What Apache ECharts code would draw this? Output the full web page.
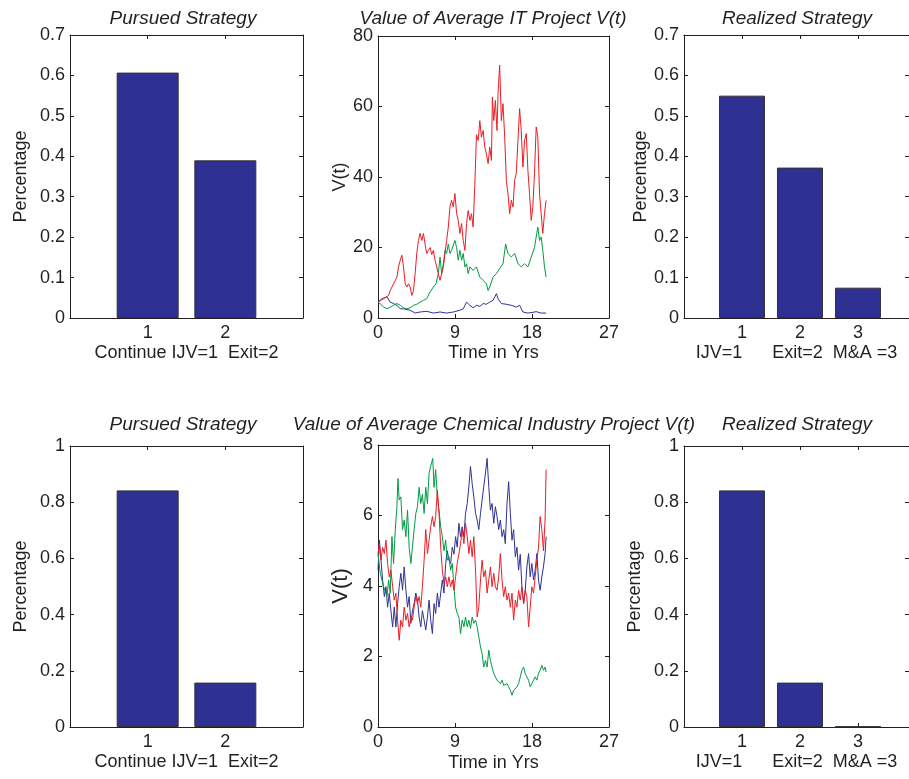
<!DOCTYPE html>
<html>
<head>
<meta charset="utf-8">
<script src="https://cdn.jsdelivr.net/npm/echarts@6/dist/echarts.min.js"></script>
<style>
html, body { margin: 0; padding: 0; background: #fff; }
#chart { width: 909px; height: 779px; }
</style>
</head>
<body>
<div id="chart"></div>
<script>
// share of projects per strategy (bars at x = 1, 2, 3)
var itPursued = [0.607, 0.39];
var itRealized = [0.55, 0.372, 0.075];
var chemPursued = [0.842, 0.158];
var chemRealized = [0.842, 0.158, 0.002];

// simulated value paths V(t), [year, value]
var itRed = [[0,4.5],[0.66,5.5],[1.24,6.4],[1.43,7.8],[1.82,9.7],[2.02,10.7],[2.21,11.6],[2.40,14.5],[2.60,16.4],[2.79,17.8],[2.98,14.5],[3.18,9.7],[3.37,8.8],[3.57,9.7],[3.76,8.8],[3.95,6.4],[4.15,7.8],[4.34,12.6],[4.53,18.3],[4.73,22],[4.92,24],[5.12,22],[5.31,24],[5.50,21],[5.70,18.3],[5.89,19.2],[6.09,20],[6.28,18],[6.47,19.2],[6.67,16.4],[6.86,14.5],[7.05,12.6],[7.25,10.7],[7.44,12.6],[7.64,14.5],[7.83,18.3],[8.02,22],[8.22,25.8],[8.41,31.5],[8.60,33.4],[8.80,31.5],[8.99,35.3],[9.19,29.6],[9.38,27.7],[9.57,24],[9.77,26.8],[9.96,22],[10.16,19.2],[10.35,26.8],[10.54,30.5],[10.74,27.7],[10.93,29.6],[11.12,25.8],[11.32,38],[11.51,52],[11.71,50.4],[11.90,56],[12.09,51.3],[12.29,53.2],[12.48,48.5],[12.67,46.6],[12.87,43.8],[13.06,48.5],[13.26,44.7],[13.37,62.7],[13.53,56],[13.72,61.7],[13.91,53.2],[14.03,63.6],[14.22,71.7],[14.42,56],[14.61,60.8],[14.81,51.3],[15.0,39],[15.19,35.3],[15.39,29.6],[15.58,33.4],[15.78,31.5],[15.97,39],[16.16,41],[16.36,50.4],[16.55,59.4],[16.74,53.2],[16.94,42.8],[17.13,50.4],[17.33,52.3],[17.52,41.9],[17.71,35.3],[17.91,27.7],[18.10,31.5],[18.29,41],[18.49,54.2],[18.68,51.3],[18.88,35.3],[19.07,29.6],[19.26,24],[19.46,29.6],[19.65,33.4]];
var itGreen = [[0,4.5],[0.27,4.0],[0.66,3.1],[1.05,2.6],[1.43,3.1],[1.82,3.6],[2.21,4.1],[2.60,3.6],[2.98,2.9],[3.37,2.6],[3.76,2.9],[4.15,3.6],[4.53,3.9],[4.92,4.5],[5.31,5.0],[5.70,5.5],[6.09,7.4],[6.47,8.8],[6.78,9.7],[7.05,12.6],[7.25,17.3],[7.44,12.6],[7.64,15.4],[7.83,19.2],[8.02,18.3],[8.22,21],[8.41,18.3],[8.60,19.2],[8.99,22],[9.19,20],[9.38,16.4],[9.57,19.2],[9.77,16.4],[9.96,18.3],[10.16,14.5],[10.35,15.4],[10.54,12.6],[10.74,14.5],[11.12,13.5],[11.51,14.5],[11.90,11.6],[12.29,10.7],[12.67,9.7],[12.87,7.8],[13.06,8.8],[13.45,11.6],[13.84,12.6],[14.22,14],[14.61,15.4],[14.92,21],[15.19,18.3],[15.58,17.3],[15.97,18.3],[16.36,15.4],[16.74,14.5],[17.13,15.4],[17.52,14.5],[17.91,17.3],[18.29,20],[18.49,23],[18.68,25.8],[18.88,22],[19.07,23],[19.26,19.2],[19.46,14.5],[19.65,11.6]];
var itBlue = [[0,4.5],[0.47,5.5],[1.05,6],[1.43,4.5],[1.82,4.1],[2.21,3.6],[2.60,2.6],[2.98,2.6],[3.76,2.2],[4.34,1.4],[4.92,1.7],[5.70,1.9],[6.47,1.4],[7.25,1.7],[8.02,1.4],[8.80,1.7],[9.57,2.2],[9.96,2.6],[10.35,4.5],[10.74,3.6],[11.12,2.9],[11.51,3.6],[11.90,3.3],[12.29,4.1],[12.67,3.9],[13.06,4.5],[13.45,5],[13.84,6.9],[14.03,5.5],[14.42,4.1],[15.0,3.9],[15.58,3.6],[16.16,3.1],[16.55,3.6],[16.94,1.7],[17.52,1.4],[18.10,1.6],[18.49,1.8],[19.07,1.4],[19.65,1.4]];

var chemBlue = [[0,4.45],[0.16,5.3],[0.35,4.73],[0.54,4.17],[0.74,3.7],[0.93,3.98],[1.12,3.4],[1.32,3.8],[1.51,3.3],[1.71,2.84],[1.90,3.4],[2.09,2.84],[2.29,3.5],[2.48,3.98],[2.67,4.36],[2.87,3.88],[3.06,4.54],[3.26,3.88],[3.45,3.4],[3.64,3.7],[3.84,2.94],[4.03,3.3],[4.22,3.5],[4.42,3.8],[4.61,3.6],[4.81,3.12],[5.0,2.84],[5.19,3.3],[5.39,3.03],[5.58,2.75],[5.78,3.12],[5.97,3.6],[6.16,3.03],[6.36,2.65],[6.55,3.5],[6.74,3.22],[6.94,3.8],[7.13,3.4],[7.33,3.8],[7.52,4.17],[7.71,3.8],[7.91,4.64],[8.10,5.0],[8.29,4.73],[8.49,4.64],[8.68,5.1],[8.88,4.9],[9.07,5.4],[9.26,5.1],[9.46,5.78],[9.65,5.4],[9.84,5.68],[10.04,5.4],[10.23,6.06],[10.43,6.34],[10.62,6.82],[10.81,7.39],[11.01,6.9],[11.20,6.53],[11.40,6.06],[11.59,5.87],[11.78,5.6],[11.98,6.06],[12.17,6.44],[12.36,6.82],[12.56,7.2],[12.75,7.62],[12.95,6.82],[13.14,6.15],[13.33,6.34],[13.53,5.78],[13.72,6.25],[13.91,5.97],[14.11,5.6],[14.30,5.87],[14.50,5.4],[14.69,5.6],[14.88,5.2],[15.08,6.34],[15.27,6.96],[15.47,6.06],[15.66,5.3],[15.85,5.6],[16.05,4.83],[16.24,5.1],[16.43,4.45],[16.63,4.9],[16.82,3.98],[17.02,3.5],[17.21,3.88],[17.40,4.54],[17.60,4.92],[17.79,4.26],[17.98,4.64],[18.18,4.17],[18.37,4.45],[18.57,4.92],[18.76,4.17],[18.95,3.88],[19.15,4.26],[19.34,4.54],[19.53,4.92],[19.65,5.4]];
var chemRed = [[0,4.92],[0.16,5.2],[0.35,4.73],[0.54,5.1],[0.74,4.92],[0.93,5.3],[1.12,4.64],[1.32,4.26],[1.51,4.45],[1.71,3.98],[1.90,3.6],[2.09,3.8],[2.29,3.03],[2.48,2.46],[2.67,3.03],[2.87,2.84],[3.06,3.4],[3.26,3.03],[3.45,3.22],[3.64,2.84],[3.84,3.12],[4.03,3.03],[4.22,3.4],[4.42,3.7],[4.61,3.5],[4.81,3.7],[5.0,3.4],[5.19,3.98],[5.39,4.73],[5.58,5.6],[5.78,4.92],[5.97,5.3],[6.16,5.68],[6.36,5.97],[6.55,5.68],[6.74,5.97],[6.94,6.72],[7.13,6.06],[7.33,5.1],[7.52,4.45],[7.71,4.07],[7.91,4.26],[8.10,3.98],[8.29,4.26],[8.49,3.98],[8.68,4.17],[8.88,3.88],[9.07,4.26],[9.26,4.64],[9.46,4.92],[9.65,5.2],[9.84,5.6],[10.04,5.2],[10.23,5.78],[10.43,5.4],[10.62,4.92],[10.81,5.3],[11.01,4.83],[11.20,5.4],[11.40,4.45],[11.59,3.12],[11.78,3.4],[11.98,4.17],[12.17,4.73],[12.36,4.26],[12.56,4.45],[12.75,3.8],[12.95,4.17],[13.14,4.54],[13.33,3.98],[13.53,4.36],[13.72,3.98],[13.91,3.88],[14.11,4.26],[14.30,4.92],[14.50,4.17],[14.69,3.7],[14.88,3.98],[15.08,3.6],[15.27,3.8],[15.47,3.4],[15.66,3.8],[15.85,3.03],[16.05,3.6],[16.24,3.4],[16.43,3.88],[16.63,3.6],[16.82,3.98],[17.02,3.5],[17.21,3.88],[17.40,3.7],[17.60,2.84],[17.79,3.4],[17.98,3.98],[18.18,3.8],[18.37,4.26],[18.57,4.73],[18.76,5.1],[18.95,5.97],[19.15,5.6],[19.34,5.0],[19.53,5.87],[19.65,7.3]];
var chemGreen = [[0,4.9],[0.27,4.36],[0.66,3.98],[1.05,3.7],[1.24,4.17],[1.43,3.8],[1.63,5.4],[1.82,4.64],[2.02,5.6],[2.21,6.25],[2.33,7.05],[2.48,6.44],[2.67,6.53],[2.87,5.6],[3.06,5.87],[3.26,5.4],[3.45,6.15],[3.64,5.1],[3.84,4.64],[4.03,5.1],[4.22,5.6],[4.42,6.06],[4.61,6.25],[4.81,6.8],[5.0,6.34],[5.19,6.6],[5.39,6.06],[5.58,6.8],[5.78,6.34],[5.97,7.2],[6.16,7.4],[6.40,7.62],[6.55,6.8],[6.74,7.3],[6.94,6.53],[7.13,6.15],[7.33,5.68],[7.52,5.4],[7.71,5.0],[7.91,5.3],[8.10,4.73],[8.29,4.83],[8.49,4.45],[8.68,4.64],[8.88,3.98],[9.07,3.4],[9.26,3.22],[9.46,3.12],[9.65,2.65],[9.84,3.03],[10.04,2.84],[10.23,3.12],[10.43,2.84],[10.62,3.03],[10.81,2.8],[11.01,3.12],[11.20,2.94],[11.40,3.03],[11.59,2.84],[11.78,2.56],[11.98,2.27],[12.17,2.08],[12.36,1.7],[12.56,1.89],[12.75,1.7],[12.95,2.18],[13.14,1.89],[13.33,1.7],[13.53,1.52],[13.72,1.42],[13.91,1.33],[14.11,1.37],[14.30,1.23],[14.50,1.33],[14.69,1.18],[14.88,1.14],[15.08,1.23],[15.27,1.14],[15.47,1.04],[15.66,0.9],[15.85,1.04],[16.05,1.0],[16.24,1.14],[16.43,1.23],[16.63,1.42],[16.82,1.61],[17.02,1.7],[17.21,1.52],[17.40,1.42],[17.60,1.33],[17.79,1.14],[17.98,1.23],[18.18,1.33],[18.37,1.42],[18.57,1.33],[18.76,1.52],[18.95,1.61],[19.15,1.75],[19.34,1.61],[19.53,1.7],[19.65,1.56]];

var FONT = 'Liberation Sans, Arial, Helvetica, sans-serif';
var INK = '#231f20';
var BAR = '#2e3192';
var RED = '#ed1c24', GREEN = '#009a44', BLUE = '#2e3192';

// right-hand panels run past the page edge (x from 0 to 4, cut near 3.88)
var grids = [
    { left: 70, top: 35, width: 233, height: 283 },
    { left: 378, top: 36, width: 231, height: 282 },
    { left: 684, top: 35, width: 225, height: 283 },
    { left: 70, top: 446, width: 233, height: 281 },
    { left: 378, top: 445, width: 231, height: 282 },
    { left: 684, top: 446, width: 225, height: 281 }
];

var xAxes = [], yAxes = [], series = [];

function tick() {
    return { show: true, inside: true, length: 4, lineStyle: { color: INK } };
}

// box-style axes: labelled bottom/left, mirrored ticks on top/right
function addAxes(g, x, y) {
    var line = { show: true, onZero: false, lineStyle: { color: INK, width: 1 } };
    xAxes.push({
        type: 'value', gridIndex: g, position: 'bottom',
        min: x.min, max: x.max, interval: x.interval,
        axisLine: line, axisTick: tick(), splitLine: { show: false },
        axisLabel: { color: INK, fontSize: 18, fontFamily: FONT, margin: 6, formatter: x.fmt, showMaxLabel: !x.fmt ? true : false },
        name: x.name, nameLocation: 'middle', nameGap: x.gap || 26,
        nameTextStyle: { color: INK, fontSize: 18, fontFamily: FONT }
    });
    xAxes.push({
        type: 'value', gridIndex: g, position: 'top',
        min: x.min, max: x.max, interval: x.interval,
        axisLine: line, axisTick: tick(), axisLabel: { show: false }, splitLine: { show: false }
    });
    yAxes.push({
        type: 'value', gridIndex: g, position: 'left',
        min: y.min, max: y.max, interval: y.interval,
        axisLine: line, axisTick: tick(), splitLine: { show: false },
        axisLabel: { color: INK, fontSize: 18, fontFamily: FONT, margin: 5 },
        name: y.name, nameLocation: 'middle', nameGap: y.gap,
        nameTextStyle: { color: INK, fontSize: y.size || 18, fontFamily: FONT }
    });
    yAxes.push({
        type: 'value', gridIndex: g, position: 'right',
        min: y.min, max: y.max, interval: y.interval,
        axisLine: line, axisTick: tick(), axisLabel: { show: false }, splitLine: { show: false }
    });
}

function onlyBars(n) {
    return function (v) { return (v >= 1 && v <= n) ? String(v) : ''; };
}

function addBars(g, values, width) {
    series.push({
        type: 'bar', xAxisIndex: 2 * g, yAxisIndex: 2 * g,
        barWidth: width,
        data: values.map(function (v, i) { return [i + 1, v]; }),
        itemStyle: { color: BAR, borderColor: '#333', borderWidth: 1 },
        silent: true
    });
}

function addLine(g, data, color) {
    series.push({
        type: 'line', xAxisIndex: 2 * g, yAxisIndex: 2 * g,
        data: data, showSymbol: false, symbol: 'none',
        lineStyle: { color: color, width: 1 }, silent: true
    });
}

// top row: IT projects
addAxes(0, { min: 0, max: 3, interval: 1, fmt: onlyBars(2), name: 'Continue IJV=1  Exit=2' },
           { min: 0, max: 0.7, interval: 0.1, name: 'Percentage', gap: 40 });
addBars(0, itPursued, 62);

addAxes(1, { min: 0, max: 27, interval: 9, name: 'Time in Yrs' },
           { min: 0, max: 80, interval: 20, name: 'V(t)', gap: 28 });
addLine(1, itBlue, BLUE);
addLine(1, itGreen, GREEN);
addLine(1, itRed, RED);

addAxes(2, { min: 0, max: 3.88, interval: 1, fmt: onlyBars(3), name: 'IJV=1      Exit=2  M&A =3', gap: 26 },
           { min: 0, max: 0.7, interval: 0.1, name: 'Percentage', gap: 33 });
addBars(2, itRealized, 46);

// bottom row: chemical industry projects
addAxes(3, { min: 0, max: 3, interval: 1, fmt: onlyBars(2), name: 'Continue IJV=1  Exit=2' },
           { min: 0, max: 1, interval: 0.2, name: 'Percentage', gap: 40 });
addBars(3, chemPursued, 62);

addAxes(4, { min: 0, max: 27, interval: 9, name: 'Time in Yrs', gap: 27 },
           { min: 0, max: 8, interval: 2, name: 'V(t)', gap: 26, size: 22 });
addLine(4, chemBlue, BLUE);
addLine(4, chemGreen, GREEN);
addLine(4, chemRed, RED);

addAxes(5, { min: 0, max: 3.88, interval: 1, fmt: onlyBars(3), name: 'IJV=1      Exit=2  M&A =3', gap: 26 },
           { min: 0, max: 1, interval: 0.2, name: 'Percentage', gap: 40 });
addBars(5, chemRealized, 46);

function title(text, x, y) {
    return {
        type: 'text', x: x, y: y, silent: true,
        style: {
            text: text, fill: INK, fontSize: 19, fontStyle: 'italic', fontFamily: FONT,
            align: 'center', verticalAlign: 'middle'
        }
    };
}

var chart = echarts.init(document.getElementById('chart'), null, { renderer: 'canvas' });
chart.setOption({
    animation: false,
    backgroundColor: '#fff',
    grid: grids,
    xAxis: xAxes,
    yAxis: yAxes,
    series: series,
    graphic: [
        title('Pursued Strategy', 183, 19),
        title('Value of Average IT Project V(t)', 493, 19),
        title('Realized Strategy', 797, 19),
        title('Pursued Strategy', 183, 425),
        title('Value of Average Chemical Industry Project V(t)', 494, 425),
        title('Realized Strategy', 797, 425)
    ]
});
</script>
</body>
</html>
